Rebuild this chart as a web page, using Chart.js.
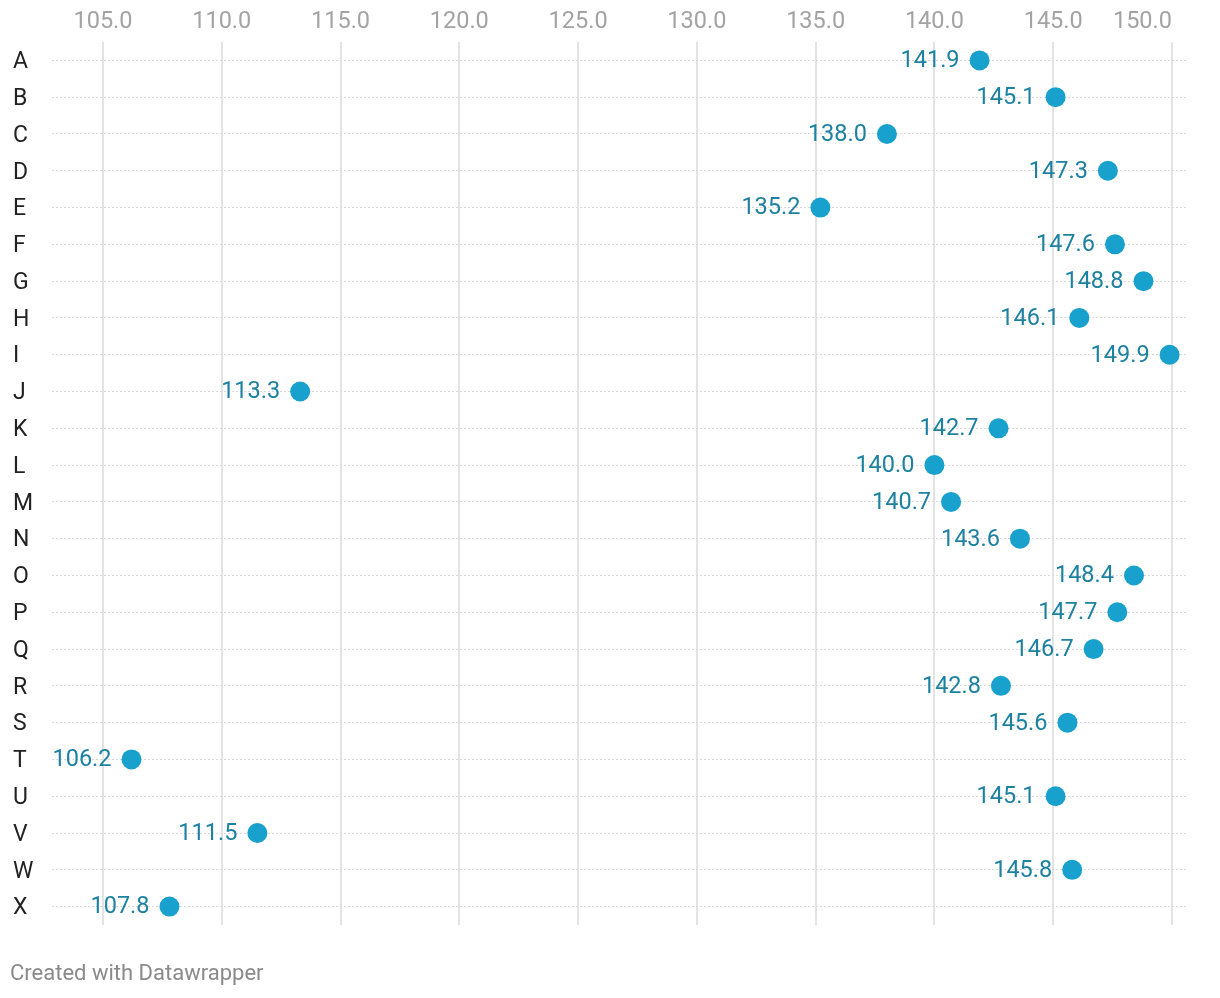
<!DOCTYPE html>
<html>
<head>
<meta charset="utf-8">
<script src="https://cdn.jsdelivr.net/npm/chart.js@4"></script>
<style>
  html, body { margin: 0; padding: 0; background: #fff; }
  #wrap { width: 1220px; height: 998px; position: relative; }
</style>
</head>
<body>
<div id="wrap"><canvas id="dotChart" width="1220" height="998"></canvas></div>
<script>
const categories = ["A","B","C","D","E","F","G","H","I","J","K","L","M","N","O","P","Q","R","S","T","U","V","W","X"];
const values = [141.9, 145.1, 138.0, 147.3, 135.2, 147.6, 148.8, 146.1, 149.9, 113.3, 142.7, 140.0,
                140.7, 143.6, 148.4, 147.7, 146.7, 142.8, 145.6, 106.2, 145.1, 111.5, 145.8, 107.8];
const xTicks = [105, 110, 115, 120, 125, 130, 135, 140, 145, 150];

// x tick labels (last one right aligned), value labels, footer
const labelPlugin = {
  id: "dotLabels",
  afterDatasetsDraw(chart) {
    const ctx = chart.ctx;
    const xs = chart.scales.x;
    const meta = chart.getDatasetMeta(0);
    ctx.save();
    ctx.textBaseline = "middle";

    ctx.font = "23.5px Roboto";
    ctx.fillStyle = "#a3a3a3";
    xTicks.forEach((v, i) => {
      ctx.textAlign = i === xTicks.length - 1 ? "right" : "center";
      ctx.fillText(v.toFixed(1), xs.getPixelForValue(v), 22);
    });

    ctx.fillStyle = "#1d81a2";
    ctx.textAlign = "right";
    meta.data.forEach((pt, i) => {
      ctx.fillText(values[i].toFixed(1), pt.x - 20, pt.y + 1);
    });

    ctx.font = "22px Roboto";
    ctx.fillStyle = "#8a8a8a";
    ctx.textAlign = "left";
    ctx.fillText("Created with Datawrapper", 10, 974);
    ctx.restore();
  }
};

document.addEventListener("DOMContentLoaded", () => {
  const ctx = document.getElementById("dotChart").getContext("2d");

  new Chart(ctx, {
    type: "line",
    data: {
      labels: categories,
      datasets: [{
        data: values,
        showLine: false,
        pointRadius: 10,
        pointHoverRadius: 10,
        pointBackgroundColor: "#18a1cd",
        pointBorderWidth: 0,
        borderColor: "#18a1cd"
      }]
    },
    options: {
      indexAxis: "y",
      responsive: false,
      animation: false,
      devicePixelRatio: 1,
      layout: { padding: { top: 5, left: 13, right: 34, bottom: 73 } },
      plugins: { legend: { display: false }, tooltip: { enabled: false } },
      scales: {
        x: {
          type: "linear",
          position: "top",
          min: 102.854,
          max: 150.59,
          afterBuildTicks: (scale) => { scale.ticks = xTicks.map(v => ({ value: v })); },
          afterFit: (scale) => { scale.height = 37; },
          grid: { color: "#e3e3e3", lineWidth: 2, drawTicks: false },
          border: { display: false },
          ticks: { display: false }
        },
        y: {
          type: "category",
          offset: true,
          afterFit: (scale) => { scale.width = 39; },
          grid: { color: "#d9d9d9", lineWidth: 1, drawTicks: false, offset: false },
          border: { display: false, dash: [2, 2] },
          ticks: {
            crossAlign: "far",
            padding: 0,
            labelOffset: 2,
            color: "#222",
            font: { size: 23, family: "Roboto" }
          }
        }
      }
    },
    plugins: [labelPlugin]
  });
});
</script>
</body>
</html>
